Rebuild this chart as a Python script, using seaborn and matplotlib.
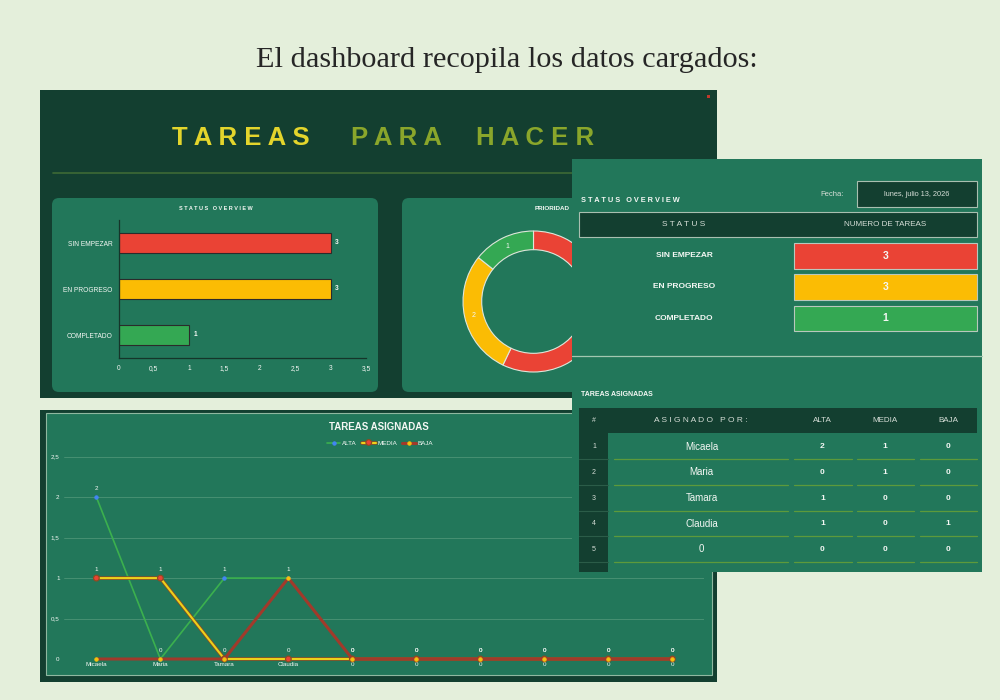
import numpy as np
import matplotlib
matplotlib.use("Agg")
import matplotlib.pyplot as plt
import matplotlib.patheffects as pe
import seaborn as sns
from matplotlib.patches import Rectangle, FancyBboxPatch
from matplotlib import font_manager as fm

# ---------------- data ----------------
status_labels = ["SIN EMPEZAR", "EN PROGRESO", "COMPLETADO"]
status_counts = [3, 3, 1]
priority_labels = ["ALTA", "MEDIA", "BAJA"]
assignees = ["Micaela", "Maria", "Tamara", "Claudia", "0", "0", "0", "0", "0", "0"]
alta = [2, 0, 1, 1, 0, 0, 0, 0, 0, 0]
media = [1, 1, 0, 0, 0, 0, 0, 0, 0, 0]
baja = [0, 0, 0, 1, 0, 0, 0, 0, 0, 0]
bar_xticks = [0, 0.5, 1, 1.5, 2, 2.5, 3, 3.5]
bar_xticklabels = ["0", "0,5", "1", "1,5", "2", "2,5", "3", "3,5"]
line_yticks = [0, 0.5, 1, 1.5, 2, 2.5]
line_yticklabels = ["0", "0,5", "1", "1,5", "2", "2,5"]
table_rows = 5
fecha = "lunes, julio 13, 2026"
priority_totals = [sum(alta), sum(media), sum(baja)]

# ---------------- style ----------------
sns.set_style("white")
plt.rcParams['font.family'] = ['Liberation Sans', 'DejaVu Sans']
installed = {f.name for f in fm.fontManager.ttflist}
NARROW = ['Liberation Sans Narrow', 'Liberation Sans'] if 'Liberation Sans Narrow' in installed else ['Liberation Sans', 'DejaVu Sans']

RED, YEL, GRN, BLUE = "#ea4335", "#fbbc04", "#34a853", "#4285f4"
BG = "#e4efdb"
DARK = "#133f30"
CARD = "#22775a"
WHITE = "#f4f7f4"
LIGHT = "#d6ded7"

W, H = 1000, 700
fig = plt.figure(figsize=(10, 7), dpi=100)
fig.patch.set_facecolor(BG)


def rect_px(x0, y0, x1, y1):
    return [x0 / W, 1 - y1 / H, (x1 - x0) / W, (y1 - y0) / H]


# ---------------- background canvas ----------------
ax_bg = fig.add_axes([0, 0, 1, 1])
ax_bg.set_xlim(0, W)
ax_bg.set_ylim(H, 0)
ax_bg.axis('off')
ax_bg.set_zorder(0)

ax_bg.text(507, 67, "El dashboard recopila los datos cargados:", ha='center', va='baseline',
           fontsize=21.8, family=['Liberation Serif', 'DejaVu Serif'], color='#262626')

# top panel
ax_bg.add_patch(Rectangle((40, 90), 677, 308, fc=DARK, ec='none'))
ax_bg.add_patch(Rectangle((707, 95), 2.5, 2.5, fc='#c0392b', ec='none'))
ax_bg.text(240.5, 145, "T A R E A S", ha='center', va='baseline', fontsize=18.5,
           fontweight='bold', color='#e3d52c')
ax_bg.text(396.5, 145, "P A R A", ha='center', va='baseline', fontsize=18.5,
           fontweight='bold', color='#8aa62b')
ax_bg.text(535, 145, "H A C E R", ha='center', va='baseline', fontsize=18.5,
           fontweight='bold', color='#8aa62b')
ax_bg.plot([53, 705], [173, 173], color='#3e6a35', lw=1.2)

ax_bg.add_patch(FancyBboxPatch((52, 198), 326, 194, boxstyle="round,pad=0,rounding_size=7",
                               fc=CARD, ec='none'))
ax_bg.add_patch(FancyBboxPatch((402, 198), 300, 194, boxstyle="round,pad=0,rounding_size=7",
                               fc=CARD, ec='none'))
ax_bg.text(215.5, 208, "S T A T U S   O V E R V I E W", ha='center', va='center',
           fontsize=4, fontweight='bold', color=WHITE)
ax_bg.text(552, 208, "PRIORIDAD", ha='center', va='center', fontsize=4.5,
           fontweight='bold', color=WHITE)

# bottom panel
ax_bg.add_patch(Rectangle((40, 410), 677, 272, fc=DARK, ec='none'))
ax_bg.add_patch(Rectangle((45.5, 413), 666.5, 262, fc=CARD, ec='#8fb8a0', lw=0.8))
ax_bg.text(379, 427, "TAREAS ASIGNADAS", ha='center', va='center', fontsize=7,
           fontweight='bold', color=WHITE)

# ---------------- bar chart ----------------
ax_bar = fig.add_axes(rect_px(118.5, 220, 366, 358))
ax_bar.set_zorder(1)
ax_bar.patch.set_visible(False)
sns.barplot(x=status_counts, y=status_labels, hue=status_labels, palette=[RED, YEL, GRN],
            orient='h', width=0.42, edgecolor='#2b2b2b', linewidth=0.8, saturation=1,
            legend=False, ax=ax_bar)
ax_bar.set_xlim(0, 3.5)
ax_bar.set_ylim(2.5, -0.5)
ax_bar.set_xticks(bar_xticks, bar_xticklabels)
ax_bar.set_xlabel('')
ax_bar.set_ylabel('')
ax_bar.tick_params(length=0, labelsize=4.8, labelcolor=WHITE)
ax_bar.tick_params(axis='x', pad=5)
ax_bar.tick_params(axis='y', pad=4.3)
for lab in ax_bar.get_xticklabels() + ax_bar.get_yticklabels():
    lab.set_family(NARROW)
for s in ['top', 'right']:
    ax_bar.spines[s].set_visible(False)
for s in ['left', 'bottom']:
    ax_bar.spines[s].set_color('#15352a')
    ax_bar.spines[s].set_linewidth(0.9)
for c in ax_bar.containers:
    ax_bar.bar_label(c, fmt='%d', padding=3, color=WHITE, fontsize=4.8, fontweight='bold')

# ---------------- donut ----------------
lim = 72 / 70.5
ax_pie = fig.add_axes(rect_px(461.5, 229.5, 605.5, 373.5))
ax_pie.set_zorder(1)
ax_pie.patch.set_visible(False)
total = sum(priority_totals)
ax_pie.pie(priority_totals, colors=[RED, YEL, GRN], startangle=90, counterclock=False,
           radius=1, wedgeprops=dict(width=0.265, edgecolor='#dfe6da', linewidth=0.8),
           autopct=lambda p: f"{int(round(p * total / 100))}", pctdistance=0.865,
           textprops=dict(color=WHITE, fontsize=5))
ax_pie.set_xlim(-lim, lim)
ax_pie.set_ylim(-lim, lim)
ax_pie.set_aspect('equal')

# ---------------- line chart ----------------
ax_line = fig.add_axes(rect_px(64, 456.7, 703.5, 659))
ax_line.set_zorder(1)
ax_line.patch.set_visible(False)
xpos = np.arange(len(assignees))
sns.lineplot(x=xpos, y=alta, ax=ax_line, color='#3bb04e', lw=1.2, marker='o', markersize=2.4,
             markerfacecolor=BLUE, markeredgecolor=BLUE, label='ALTA', clip_on=False, zorder=3)
sns.lineplot(x=xpos, y=media, ax=ax_line, color='#ecd21a', lw=1.5, marker='o', markersize=2.4,
             markerfacecolor=RED, markeredgecolor=RED, label='MEDIA', clip_on=False, zorder=4,
             path_effects=[pe.Stroke(linewidth=2.6, foreground='#8d4b22'), pe.Normal()])
sns.lineplot(x=xpos, y=baja, ax=ax_line, color='#a13a2b', lw=2.2, marker='o', markersize=2.4,
             markerfacecolor='#f4c20d', markeredgecolor='#f4c20d', label='BAJA', clip_on=False,
             zorder=5)
for i, (a, m) in enumerate(zip(alta, media)):
    ax_line.annotate(str(a), (i, a), xytext=(0, 6.3), textcoords='offset points', ha='center',
                     va='center', fontsize=4.5, color=WHITE, zorder=6)
    ax_line.annotate(str(m), (i, m), xytext=(0, 6.3), textcoords='offset points', ha='center',
                     va='center', fontsize=4.5, color=WHITE, zorder=6)
ax_line.set_xlim(-0.506, 9.487)
ax_line.set_ylim(0, 2.5)
ax_line.set_xticks(xpos, assignees)
ax_line.set_yticks(line_yticks, line_yticklabels)
ax_line.set_xlabel('')
ax_line.set_ylabel('')
ax_line.tick_params(length=0, labelsize=4.5, labelcolor=WHITE)
ax_line.tick_params(axis='x', pad=2.5)
ax_line.tick_params(axis='y', pad=3.2)
for lab in ax_line.get_xticklabels() + ax_line.get_yticklabels():
    lab.set_family(NARROW)
ax_line.grid(axis='y', color='#4d9476', lw=0.6)
ax_line.grid(axis='x', visible=False)
ax_line.set_axisbelow(True)
for s in ax_line.spines.values():
    s.set_visible(False)
handles, labels = ax_line.get_legend_handles_labels()
leg = ax_line.legend(handles, labels, loc='center', bbox_to_anchor=(380 / W, 1 - 443 / H),
                     bbox_transform=fig.transFigure, ncol=3, frameon=False, fontsize=4.5,
                     labelcolor=WHITE, handlelength=2.2, handletextpad=0.3, columnspacing=0.8)

# ---------------- overlay panel ----------------
ax_ov = fig.add_axes([0, 0, 1, 1])
ax_ov.set_zorder(10)
ax_ov.patch.set_visible(False)
ax_ov.set_xlim(0, W)
ax_ov.set_ylim(H, 0)
ax_ov.axis('off')

ax_ov.add_patch(Rectangle((572, 159), 410, 413, fc=CARD, ec='none'))
ax_ov.text(581, 201, "S T A T U S   O V E R V I E W", ha='left', va='center', fontsize=5.3,
           fontweight='bold', color=WHITE)
ax_ov.text(832, 194, "Fecha:", ha='center', va='center', fontsize=5.5, color=LIGHT)
ax_ov.add_patch(Rectangle((857, 181), 120, 26, fc=DARK, ec='#a9bfb0', lw=0.8))
ax_ov.text(917, 194, fecha, ha='center', va='center', fontsize=5.3, color=LIGHT)

ax_ov.add_patch(Rectangle((579, 212), 398, 25, fc=DARK, ec='#a9bfb0', lw=0.8))
ax_ov.text(684, 224.7, "S T A T U S", ha='center', va='center', fontsize=6, color=LIGHT)
ax_ov.text(885, 224.7, "NUMERO DE TAREAS", ha='center', va='center', fontsize=5.8, color=LIGHT)

status_colors = [RED, YEL, GRN]
for i, (lab, cnt) in enumerate(zip(status_labels, status_counts)):
    y = 255.7 + i * 31.3
    ax_ov.text(684, y, lab, ha='center', va='center', fontsize=6, fontweight='bold', color=WHITE)
    ax_ov.add_patch(Rectangle((794, y - 12.8), 183, 25.6, fc=status_colors[i],
                              ec='#b9c8bd', lw=0.8))
    ax_ov.text(885.5, y, str(cnt), ha='center', va='center', fontsize=7.5, fontweight='bold',
               color=WHITE)

ax_ov.plot([572, 982], [356, 356], color='#a3c7b1', lw=0.9)
ax_ov.text(581, 395, "TAREAS ASIGNADAS", ha='left', va='center', fontsize=5, fontweight='bold',
           color=WHITE)

ax_ov.add_patch(Rectangle((579, 408), 398, 25, fc=DARK, ec='none'))
ax_ov.add_patch(Rectangle((579, 433), 29, 139, fc=DARK, ec='none'))
ax_ov.text(594, 420.7, "#", ha='center', va='center', fontsize=5, color=LIGHT)
ax_ov.text(701, 420.7, "A S I G N A D O   P O R :", ha='center', va='center', fontsize=6,
           color=LIGHT)
for xh, lab in zip([822.5, 885, 948], priority_labels):
    ax_ov.text(xh, 420.7, lab, ha='center', va='center', fontsize=5.8, color=LIGHT)

for j in range(table_rows):
    y = 446.7 + j * 25.65
    ax_ov.text(594, y, str(j + 1), ha='center', va='center', fontsize=5, color=LIGHT)
    ax_ov.text(701.5, y, assignees[j], ha='center', va='center', fontsize=7, color=WHITE)
    for xv, vals in zip([822.5, 885, 948], [alta, media, baja]):
        ax_ov.text(xv, y, str(vals[j]), ha='center', va='center', fontsize=6,
                   fontweight='bold', color=WHITE)
    yl = y + 12.6
    ax_ov.plot([579, 608], [yl, yl], color='#2b5c48', lw=0.8)
    for x0, x1 in [(614, 788), (794, 851.5), (857, 914), (920, 977)]:
        ax_ov.plot([x0, x1], [yl, yl], color='#5d9a3b', lw=0.9)

fig.savefig("out.png", dpi=100, facecolor=BG)
